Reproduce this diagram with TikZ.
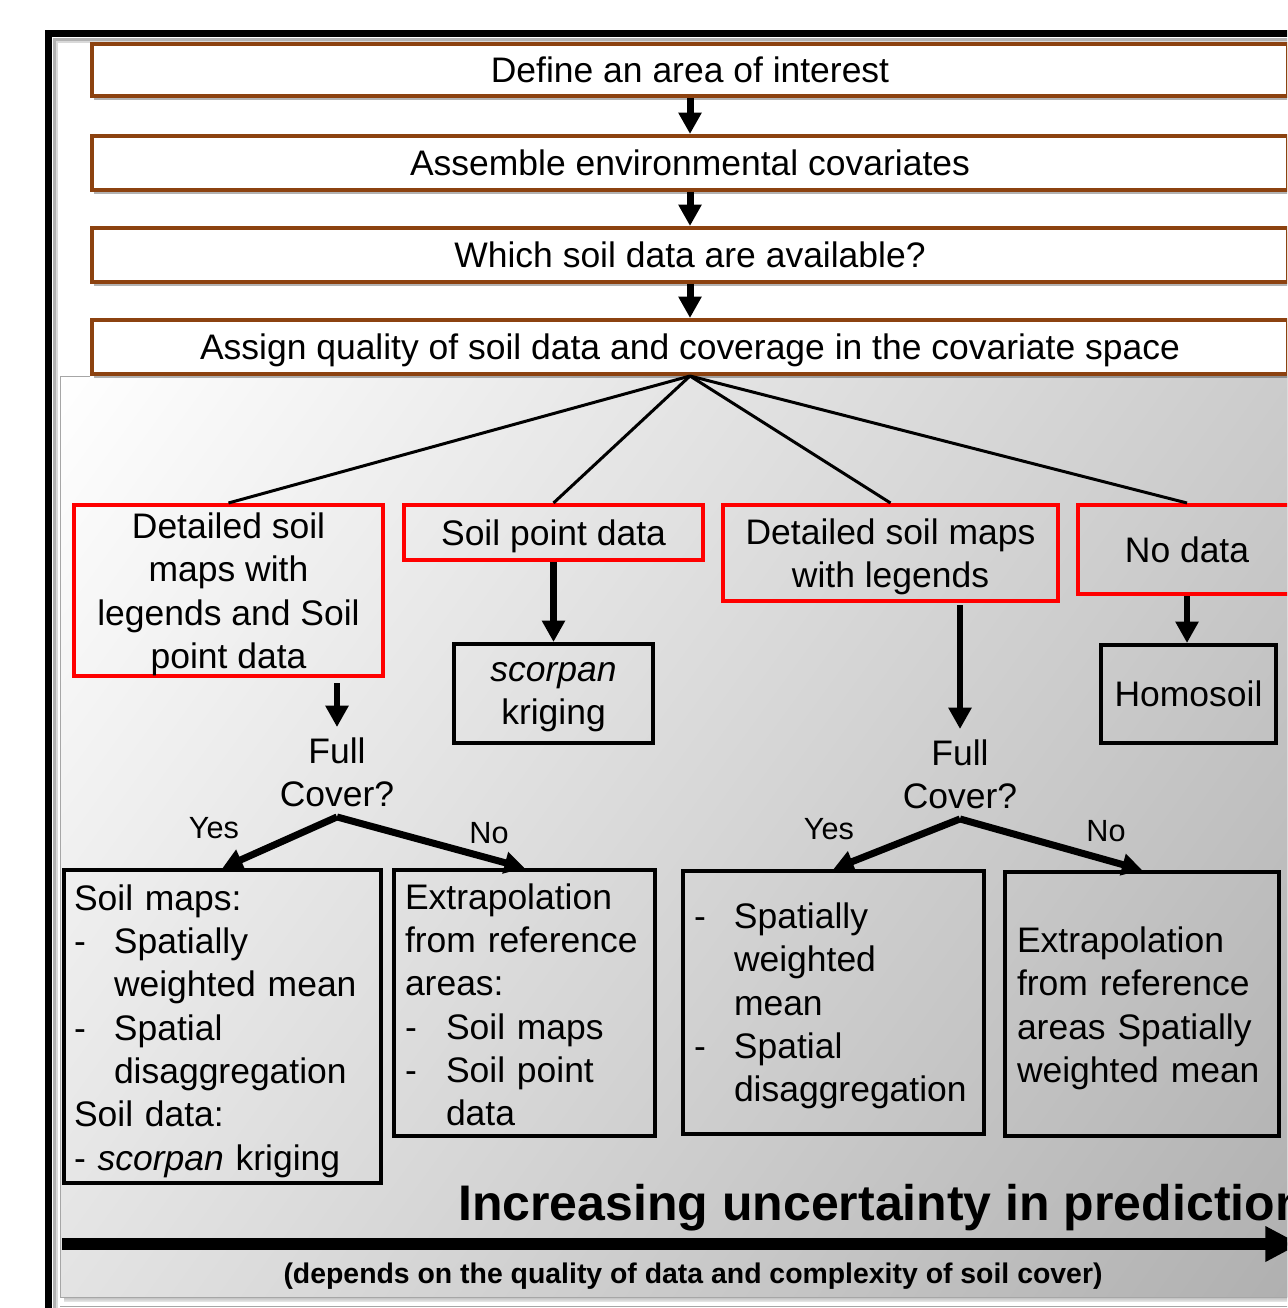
\documentclass[tikz,border=0pt]{standalone}
\usepackage{fontspec}
\setmainfont{Liberation Sans}
\usetikzlibrary{arrows.meta,shadows,calc}
\definecolor{brownb}{RGB}{140,66,16}
\definecolor{redb}{RGB}{255,0,0}
\pgfdeclarehorizontalshading{bgshade}{100bp}{color(0bp)=(white); color(15bp)=(white); color(100bp)=(black!38)}
\pgfdeclareverticalshading{botshadow}{100bp}{color(0bp)=(white); color(100bp)=(black!35)}
\tikzset{
  base/.style={font=\fontsize{26.6}{32.5}\selectfont, inner sep=0pt},
  topbox/.style={base, draw=brownb, line width=3pt, fill=white, minimum width=897pt,
     drop shadow={shadow xshift=1.5pt, shadow yshift=-3pt, opacity=0.3, fill=black}},
  redbox/.style={base, draw=redb, line width=3pt, align=center},
  blkbox/.style={base, draw=black, line width=3pt, align=center},
  listbox/.style={base, draw=black, line width=3pt, align=left, inner ysep=0pt},
  fcnode/.style={base, align=center, inner ysep=7.5pt},
  ynlabel/.style={inner sep=0pt, font=\fontsize{23}{27}\selectfont},
  toparrow/.style={line width=5.25pt, -{Triangle[length=16pt,width=16.5pt]}},
  varrow/.style={line width=5pt, -{Triangle[length=16pt,width=16.5pt]}},
  brarrow/.style={line width=5.25pt, -{Triangle[length=15pt,width=16pt]}},
  fanline/.style={line width=2.25pt},
}
\begin{document}
\begin{tikzpicture}[x=0.75pt,y=-0.75pt]
\useasboundingbox (0,0) rectangle (1287,1308);
\clip (0,0) rectangle (1287,1308);
% outer frame with inner shadow
\draw[black!30, line width=2pt] (54.5,1400) |- (1400,39.5);
\draw[black!15, line width=2pt] (57,1400) |- (1400,42);
\draw[line width=5.25pt] (48.5,33.5) rectangle (1500,1500);
\draw[black!35, line width=0.75pt] (60,1306) -- (1300,1306);
% shaded background region
\shade[shading=botshadow] (64,1297) rectangle (1300,1301.5);
\fill[shading=bgshade, shading angle=-36] (60,376) rectangle (1300,1297);
\draw[black!35, line width=0.75pt] (90,376) -- (60,376) -- (60,1297) -- (1300,1297);

% top boxes
\node[topbox, minimum height=39pt] (t1) at (690,70) {Define an area of interest};
\node[topbox, minimum height=40.5pt] (t2) at (690,163) {Assemble environmental covariates};
\node[topbox, minimum height=40.5pt] (t3) at (690,255) {Which soil data are available?};
\node[topbox, minimum height=40.5pt, text depth=-1.9pt] (t4) at (690,347) {Assign quality of soil data and coverage in the covariate space};
\draw[toparrow] (t1.south) -- (t2.north);
\draw[toparrow] (t2.south) -- (t3.north);
\draw[toparrow] (t3.south) -- (t4.north);

% red category boxes
\node[redbox, minimum width=231.75pt, minimum height=128.25pt, text depth=-1.9pt] (r1) at (228.5,590.5)
  {Detailed soil\\maps with\\legends and Soil\\point data};
\node[redbox, minimum width=224.25pt, minimum height=41.25pt, text depth=-3.4pt] (r2) at (553.5,532.5) {Soil point data};
\node[redbox, minimum width=251.25pt, minimum height=72pt, text depth=-3.4pt] (r3) at (890.5,553)
  {Detailed soil maps\\with legends};
\node[redbox, minimum width=163.5pt, minimum height=66.75pt] (r4) at (1187,549.5) {No data};

\draw[fanline] (t4.south) -- (r1.north);
\draw[fanline] (t4.south) -- (r2.north);
\draw[fanline] (t4.south) -- (r3.north);
\draw[fanline] (t4.south) -- (r4.north);

% second level
\node[blkbox, minimum width=149.25pt, minimum height=74.25pt, text depth=-5.6pt] (k) at (553.5,693.5)
  {\textit{scorpan}\\kriging};
\node[blkbox, minimum width=131.25pt, minimum height=73.5pt] (h) at (1188.5,694) {Homosoil};
\node[fcnode] (fc1) at (337,772) {Full\\Cover?};
\node[fcnode] (fc2) at (960,774) {Full\\Cover?};

\draw[varrow, shorten <=3.75pt] (fc1.north |- r1.south) -- (fc1.north);
\draw[varrow] (r2.south) -- (k.north);
\draw[varrow, shorten <=1.5pt] (fc2.north |- r3.south) -- (fc2.north);
\draw[varrow] (r4.south) -- (r4.south |- h.north);

% bottom boxes
\node[listbox, inner xsep=7.5pt, text width=222.75pt, minimum width=237.75pt, minimum height=234.75pt] (b1) at (222.5,1026.5)
  {\rule{0pt}{26.15pt}Soil maps:\\\makebox[30pt][l]{-}Spatially\\\hspace*{30pt}weighted mean\\\makebox[30pt][l]{-}Spatial\\\hspace*{30pt}disaggregation\\Soil data:\\- \textit{scorpan} kriging};
\node[listbox, inner xsep=8.25pt, text width=179.25pt, minimum width=195.75pt, minimum height=199.5pt] (b2) at (524.5,1003)
  {\rule{0pt}{22.05pt}Extrapolation\\from reference\\areas:\\\makebox[30.75pt][l]{-}Soil maps\\\makebox[30.75pt][l]{-}Soil point\\\hspace*{30.75pt}data};
\node[listbox, inner xsep=8.25pt, text width=209.25pt, minimum width=225.75pt, minimum height=197.25pt] (b3) at (833.5,1002.5)
  {\rule{0pt}{24.65pt}\makebox[30pt][l]{-}Spatially\\\hspace*{30pt}weighted\\\hspace*{30pt}mean\\\makebox[30pt][l]{-}Spatial\\\hspace*{30pt}disaggregation};
\node[listbox, inner xsep=9pt, text width=187.5pt, minimum width=205.5pt, minimum height=198pt] (b4) at (1142,1004)
  {\rule{0pt}{25.8pt}Extrapolation\\from reference\\areas Spatially\\weighted mean};

\draw[brarrow] (fc1.south) -- (b1.north);
\draw[brarrow] (fc1.south) -- (b2.north);
\draw[brarrow] (fc2.south) -- (b3.north);
\draw[brarrow] (fc2.south) -- (b4.north);

\node[ynlabel] (y1) at (214,828) {Yes};
\node[ynlabel] (n1) at (489,833) {No};
\node[ynlabel] (y2) at (829,829) {Yes};
\node[ynlabel] (n2) at (1106,831) {No};

% uncertainty axis
\node[inner sep=0pt, anchor=base west, font=\bfseries\fontsize{37.5}{45}\selectfont] (unc) at (458,1220)
  {Increasing uncertainty in prediction};
\coordinate (ua) at (62,1244);
\coordinate (ub) at (1300,1244);
\draw[line width=9pt, -{Triangle[length=26pt,width=25pt]}] (ua) -- (ub);
\node[inner sep=0pt, font=\bfseries\fontsize{21.3}{26}\selectfont] (dep) at (693,1276)
  {(depends on the quality of data and complexity of soil cover)};
\end{tikzpicture}
\end{document}
